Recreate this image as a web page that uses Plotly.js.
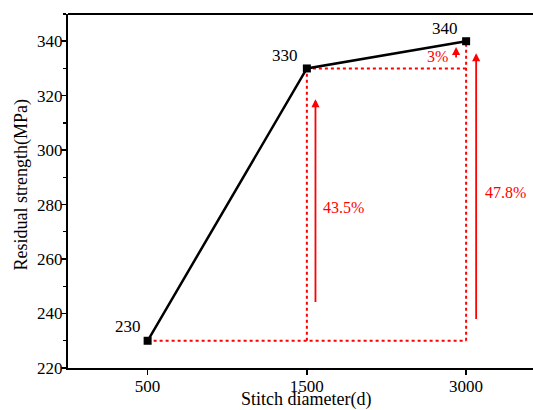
<!DOCTYPE html>
<html><head><meta charset="utf-8">
<script src="https://cdn.plot.ly/plotly-3.0.1.min.js"></script>
<style>body{margin:0;background:#fff}#c{width:533px;height:410px}</style>
</head><body><div id="c"></div>
<script>
const categories = ['500', '1500', '3000'];
const strength = [230, 330, 340];
const pointLabels = ['230', '330', '340'];
const gainLabels = ['43.5%', '47.8%', '3%'];
const xTitle = 'Stitch diameter(d)';
const yTitle = 'Residual strength(MPa)';

const red = '#ff0000';
const FAM = 'Liberation Serif, Times New Roman, serif';
const mk = (c, sz) => ({family: FAM, size: sz || 16, color: c});
const idx = [0, 1, 2];

const dotted = {color: red, width: 2, dash: 'dot'};
const traces = [
  {x: [idx[0], idx[2]], y: [strength[0], strength[0]], mode: 'lines', line: dotted, hoverinfo: 'skip'},
  {x: [idx[1], idx[1]], y: [strength[0], strength[1]], mode: 'lines', line: dotted, hoverinfo: 'skip'},
  {x: [idx[1], idx[2]], y: [strength[1], strength[1]], mode: 'lines', line: dotted, hoverinfo: 'skip'},
  {x: [idx[2], idx[2]], y: [strength[0], strength[2]], mode: 'lines', line: dotted, hoverinfo: 'skip'},
  {x: idx, y: strength, mode: 'lines+markers', line: {color: '#000', width: 2.5},
   marker: {symbol: 'square', size: 8, color: '#000'}}
];

const arrow = (x, y0, y1) => ({x: x, y: y1, ax: x, ay: y0, xref: 'x', yref: 'y', axref: 'x', ayref: 'y',
  showarrow: true, arrowhead: 2, arrowsize: 0.9, arrowwidth: 1.8, arrowcolor: red, text: ''});

const annotations = [
  arrow(idx[1] + 0.054, 243.7, 318.7),
  arrow(idx[2] + 0.063, 237.4, 335.6),
  arrow(idx[2] - 0.063, 333.5, 337.9),
  {x: idx[0] - 0.125, y: strength[0] + 1.0, text: pointLabels[0], showarrow: false, xref: 'x', yref: 'y', yanchor: 'bottom', font: mk('#000', 17)},
  {x: idx[1] - 0.135, y: strength[1] + 0.4, text: pointLabels[1], showarrow: false, xref: 'x', yref: 'y', yanchor: 'bottom', font: mk('#000', 17)},
  {x: idx[2] - 0.135, y: strength[2] + 0.6, text: pointLabels[2], showarrow: false, xref: 'x', yref: 'y', yanchor: 'bottom', font: mk('#000', 17)},
  {x: idx[1] + 0.09, y: 279, text: gainLabels[0], showarrow: false, xref: 'x', yref: 'y', xanchor: 'left', font: mk(red, 16)},
  {x: idx[2] + 0.105, y: 284.5, text: gainLabels[1], showarrow: false, xref: 'x', yref: 'y', xanchor: 'left', font: mk(red, 16)},
  {x: idx[2] - 0.1, y: 334.5, text: gainLabels[2], showarrow: false, xref: 'x', yref: 'y', xanchor: 'right', font: mk(red, 16)},
  {x: 0.512, y: -0.089, xref: 'paper', yref: 'paper', xanchor: 'center', yanchor: 'middle',
   text: xTitle, showarrow: false, font: mk('#000', 18)},
  {x: -0.098, y: 0.517, xref: 'paper', yref: 'paper', xanchor: 'center', yanchor: 'middle', textangle: -90,
   text: yTitle, showarrow: false, font: mk('#000', 18)}
];

const layout = {
  width: 533, height: 410,
  margin: {l: 68, r: 0, t: 14, b: 42},
  paper_bgcolor: '#fff', plot_bgcolor: '#fff',
  showlegend: false,
  font: mk('#000'),
  xaxis: {
    range: [-0.5, 2.42], tickvals: idx, ticktext: categories,
    showline: true, linecolor: '#000', linewidth: 2, mirror: false,
    ticks: 'outside', ticklen: 5, tickwidth: 1.5, tickcolor: '#000',
    ticklabelstandoff: -3,
    showgrid: false, zeroline: false, tickfont: mk('#000', 17)
  },
  yaxis: {
    range: [220, 350], tickvals: [220, 240, 260, 280, 300, 320, 340],
    showline: true, linecolor: '#000', linewidth: 2,
    ticks: 'outside', ticklen: 5, tickwidth: 1.5, tickcolor: '#000',
    ticklabelstandoff: -5,
    minor: {tickvals: [230, 250, 270, 290, 310, 330, 350], ticks: 'outside', ticklen: 3, tickwidth: 1.2, tickcolor: '#000', showgrid: false},
    showgrid: false, zeroline: false, tickfont: mk('#000', 17)
  },
  shapes: [
    {type: 'line', xref: 'paper', yref: 'paper', x0: 0, x1: 1, y0: 1, y1: 1, line: {color: '#000', width: 2}}
  ],
  annotations: annotations
};

Plotly.newPlot('c', traces, layout, {displayModeBar: false, staticPlot: true});
</script></body></html>
